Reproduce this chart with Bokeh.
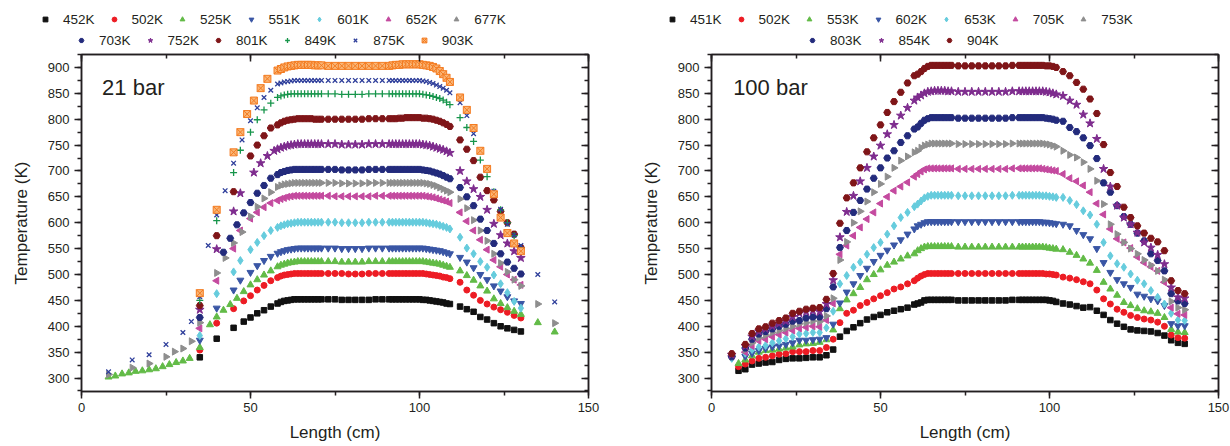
import math
from bokeh.plotting import figure
from bokeh.models import (Range1d, LinearAxis, Legend, LegendItem, Label,
                          SingleIntervalTicker, CustomJSTickFormatter, ColumnDataSource)
from bokeh.layouts import row, column
from bokeh.embed import file_html
from bokeh.resources import INLINE

FONT = "Liberation Sans"
TXT = "#231F20"

# ---------------------------------------------------------------- 21 bar panel
L_A = [58, 59, 60, 61, 62, 63, 64, 65, 66, 67, 68, 69, 70, 71]
L_M = [73, 75, 77, 79, 81, 83, 85, 87, 89, 91]
L_B = [92, 93, 94, 95, 96, 97, 98, 99, 100, 101, 102, 103, 104, 105, 106, 107, 108, 109]
L_F = [112, 114, 116, 118, 120, 122, 124, 126, 128, 130]

labels_21 = ["452K", "502K", "525K", "551K", "601K", "652K", "677K",
             "703K", "752K", "801K", "849K", "875K", "903K"]

x21_452 = [35, 40, 45, 48, 50, 52, 54, 56] + L_A + L_M + L_B + L_F
y21_452 = [340, 376, 397, 409, 417, 425, 431, 438,
           444, 447, 449, 450, 451, 452, 452, 452, 452, 452, 452, 452, 452, 452,
           452, 452, 451, 451, 451, 451, 451, 452, 452, 452,
           452, 452, 452, 452, 452, 452, 452, 452, 452, 451, 451, 450, 449, 448, 447, 446, 444, 443,
           438, 433, 428, 418, 413, 406, 400, 396, 393, 390]

x21_502 = [35, 40, 45, 48, 50, 52, 54, 56] + L_A + L_M + L_B + L_F
y21_502 = [354, 406, 434, 449, 459, 470, 479, 488,
           494, 497, 499, 500, 501, 502, 502, 502, 502, 502, 502, 502, 502, 502,
           502, 502, 502, 501, 501, 501, 502, 502, 502, 502,
           502, 502, 502, 502, 502, 502, 502, 502, 502, 502, 501, 500, 499, 498, 497, 495, 494, 492,
           485, 470, 460, 450, 443, 437, 432, 427, 421, 416]

x21_525 = ([8, 10, 12, 14, 16, 18, 20, 22, 24, 26, 28, 30, 32, 35, 38, 40, 42, 44, 46, 48, 50, 52, 54, 56]
           + L_A + L_M + L_B + L_F + [135, 140])
y21_525 = [302, 304, 308, 310, 313, 314, 316, 318, 322, 326, 330, 333, 338, 359, 403, 418, 431, 442,
           454, 467, 480, 490, 499, 507,
           515, 518, 520, 522, 523, 524, 525, 525, 525, 525, 525, 525, 525, 525,
           525, 525, 524, 524, 524, 524, 525, 525, 525, 525,
           525, 525, 525, 525, 525, 525, 525, 525, 525, 525, 524, 523, 522, 521, 520, 518, 516, 514,
           507, 498, 489, 478, 468, 453, 444, 436, 429, 423,
           407, 389]

x21_551 = [35, 40, 45, 47, 50, 52, 54, 56] + L_A + L_M + L_B + L_F
y21_551 = [373, 435, 470, 489, 504, 517, 527, 535,
           541, 544, 546, 548, 549, 550, 551, 551, 551, 551, 551, 551, 551, 551,
           551, 551, 550, 550, 550, 550, 551, 551, 551, 551,
           551, 551, 551, 551, 551, 551, 551, 551, 551, 551, 550, 549, 548, 547, 546, 544, 542, 540,
           533, 524, 513, 500, 490, 478, 468, 457, 449, 444]

x21_601 = [35, 40, 45, 47, 50, 52, 54, 56] + L_A + L_M + L_B + L_F
y21_601 = [382, 463, 505, 527, 548, 562, 575, 585,
           591, 594, 596, 598, 599, 600, 601, 601, 601, 601, 601, 601, 601, 601,
           601, 601, 600, 600, 600, 600, 601, 601, 601, 601,
           601, 601, 601, 601, 601, 601, 601, 601, 601, 601, 600, 599, 598, 597, 595, 593, 591, 588,
           572, 551, 540, 525, 514, 499, 482, 465, 448, 435]

x21_652 = [35, 40, 45, 47, 50, 52, 54, 56] + L_A + L_M + L_B + L_F
y21_652 = [396, 488, 550, 585, 608, 620, 630, 638,
           643, 646, 648, 650, 651, 652, 652, 652, 652, 652, 652, 652, 652, 652,
           652, 651, 651, 651, 651, 651, 651, 652, 652, 652,
           652, 652, 652, 652, 652, 652, 652, 652, 652, 652, 651, 650, 649, 647, 645, 643, 641, 638,
           620, 603, 585, 567, 548, 528, 515, 500, 490, 480]

x21_677 = ([8, 15, 20, 25, 27.5, 30, 32.5, 35, 40, 42.5, 45, 47.5, 50, 52, 54, 56]
           + L_A + L_M + L_B + L_F + [135, 140])
y21_677 = [307, 320, 328, 341, 351, 357, 371, 407, 503, 532, 561, 582, 612, 631, 647, 659,
           669, 672, 674, 675, 676, 677, 677, 677, 677, 677, 677, 677, 677, 677,
           677, 677, 676, 676, 676, 676, 677, 677, 677, 677,
           677, 677, 677, 677, 677, 677, 677, 677, 677, 677, 676, 675, 673, 671, 668, 665, 662, 659,
           646, 628, 605, 585, 565, 540, 522, 505, 490, 478,
           443, 406]

x21_703 = [35, 42, 44, 46, 48, 50, 52, 54, 56] + L_A + L_M + L_B + L_F
y21_703 = [417, 543, 570, 596, 619, 639, 657, 672, 686,
           693, 697, 699, 701, 702, 703, 703, 703, 703, 703, 703, 703, 703, 703,
           703, 703, 702, 702, 702, 702, 703, 703, 703, 703,
           703, 703, 703, 703, 703, 703, 703, 703, 703, 702, 701, 700, 698, 696, 694, 691, 688, 685,
           668, 650, 633, 607, 585, 560, 540, 524, 512, 501]

x21_752 = [35, 40, 45, 47, 51, 53, 55, 57] + L_A + L_M + L_B + L_F
y21_752 = [432, 549, 622, 657, 697, 715, 729, 739,
           742, 745, 747, 749, 750, 751, 752, 752, 752, 752, 752, 752, 752, 752,
           752, 752, 751, 751, 751, 751, 752, 752, 752, 752,
           752, 752, 752, 752, 752, 752, 752, 752, 752, 751, 750, 749, 747, 745, 743, 741, 738, 735,
           700, 680, 665, 650, 625, 598, 576, 560, 545, 532]

x21_801 = [35, 40, 45, 50, 52, 54, 56] + L_A + L_M + L_B + L_F
y21_801 = [440, 575, 660, 729, 750, 768, 783,
           789, 793, 796, 798, 799, 800, 801, 801, 801, 801, 801, 800, 800, 800,
           800, 800, 800, 800, 800, 800, 801, 801, 801, 801,
           801, 801, 802, 802, 803, 803, 803, 803, 803, 802, 802, 801, 800, 798, 796, 793, 790, 786,
           760, 742, 720, 688, 662, 644, 622, 600, 578, 552]

x21_849 = [35, 40, 45, 47, 50, 52, 54, 56] + L_A + L_M + L_B + L_F
y21_849 = [450, 604, 697, 740, 775, 799, 818, 831,
           842, 845, 847, 848, 849, 849, 849, 849, 849, 849, 849, 849, 849, 849,
           849, 849, 848, 848, 848, 848, 849, 849, 849, 849,
           849, 849, 849, 849, 849, 849, 849, 849, 849, 848, 847, 846, 844, 842, 840, 837, 833, 828,
           803, 784, 757, 721, 689, 660, 625, 600, 575, 552]

x21_875 = ([8, 15, 20, 25, 30, 32.5, 35, 37.5, 40, 42.5, 45, 47.5, 50, 52, 54, 56]
           + L_A + L_M + L_B + L_F + [135, 140])
y21_875 = [312, 335, 345, 365, 388, 409, 457, 556, 615, 662, 715, 760, 797, 822, 842, 856,
           868, 870, 872, 873, 874, 875, 875, 875, 875, 875, 875, 875, 875, 875,
           875, 875, 875, 875, 875, 875, 875, 875, 875, 875,
           875, 875, 875, 875, 875, 875, 875, 875, 875, 874, 873, 871, 869, 866, 863, 860, 856, 851,
           832, 807, 772, 740, 704, 661, 626, 597, 576, 556,
           500, 447]

x21_903 = [35, 40, 45, 47, 49, 51, 53, 55] + L_A + L_M + L_B + L_F
y21_903 = [464, 625, 736, 775, 810, 836, 860, 878,
           894, 897, 900, 902, 903, 904, 905, 905, 905, 905, 905, 904, 904, 904,
           903, 903, 903, 903, 903, 903, 903, 903, 903, 903,
           904, 905, 905, 906, 906, 906, 906, 906, 906, 905, 904, 903, 901, 898, 893, 887, 880, 872,
           842, 818, 783, 739, 704, 655, 610, 580, 560, 545]

xs_21 = [x21_452, x21_502, x21_525, x21_551, x21_601, x21_652, x21_677,
         x21_703, x21_752, x21_801, x21_849, x21_875, x21_903]
ys_21 = [y21_452, y21_502, y21_525, y21_551, y21_601, y21_652, y21_677,
         y21_703, y21_752, y21_801, y21_849, y21_875, y21_903]

# --------------------------------------------------------------- 100 bar panel
R_LL = [8, 10, 12, 14, 16, 18, 20, 22, 24, 26, 28, 30, 32, 34]
R_LU = [6, 10, 12, 14, 16, 18, 20, 22, 24, 26, 28, 30, 32, 34]
R_R = [36, 38, 40, 42, 44, 46, 48, 50, 52, 54, 56, 58, 60]
R_A = [61, 62, 63, 64, 65, 66, 67, 68, 69, 70, 71]
R_M = [73, 75, 77, 79, 81, 83, 85, 87, 89, 91]
R_B = [92, 93, 94, 95, 96, 97, 98, 99, 100, 101, 102]
R_F = [104, 106, 108, 110, 112, 114, 116, 118, 120, 122, 124, 126, 128, 130, 132, 134]
R_E = [136, 138, 140]

labels_100 = ["451K", "502K", "553K", "602K", "653K", "705K", "753K",
              "803K", "854K", "904K"]

x100_451 = R_LL + R_R + R_A + R_M + R_B + R_F + R_E
y100_451 = [314, 317, 326, 328, 330, 331, 335, 337, 338, 338, 339, 340, 340, 344,
            355, 380, 391, 398, 406, 413, 418, 422, 427, 430, 433, 436, 442,
            444, 446, 450, 451, 451, 451, 451, 451, 451, 451, 451,
            450, 450, 450, 450, 450, 450, 450, 450, 451, 451,
            451, 451, 451, 451, 451, 451, 451, 451, 450, 449, 447,
            444, 442, 439, 436, 437, 430, 422, 412, 405, 399, 394, 392, 391, 390, 387, 382,
            373, 368, 366]

x100_502 = R_LL + R_R + R_A + R_M + R_B + R_F + R_E
y100_502 = [322, 327, 333, 338, 340, 343, 346, 347, 351, 351, 351, 353, 353, 359,
            375, 407, 425, 431, 440, 446, 453, 459, 465, 472, 476, 482, 488,
            493, 497, 500, 502, 502, 502, 502, 502, 502, 502, 502,
            502, 502, 502, 502, 502, 502, 502, 502, 502, 502,
            502, 502, 502, 502, 502, 502, 502, 501, 501, 500, 499,
            495, 493, 490, 486, 482, 470, 453, 443, 433, 427, 421, 417, 414, 412, 408, 400,
            383, 378, 377]

x100_553 = R_LL + R_R + R_A + R_M + R_B + R_F + R_E
y100_553 = [328, 335, 343, 350, 353, 354, 356, 358, 360, 364, 366, 367, 369, 374,
            393, 434, 451, 463, 475, 490, 500, 509, 518, 524, 530, 536, 540,
            546, 550, 553, 554, 554, 554, 554, 554, 554, 554, 554,
            553, 553, 553, 553, 553, 553, 553, 553, 553, 553,
            553, 553, 553, 553, 553, 553, 553, 552, 551, 550, 549,
            548, 543, 537, 530, 522, 508, 485, 472, 460, 446, 440, 434, 430, 428, 425, 417,
            394, 389, 388]

x100_602 = R_LU + R_R + R_A + R_M + R_B + R_F + R_E
y100_602 = [340, 342, 348, 353, 357, 360, 362, 365, 368, 373, 373, 374, 375, 378,
            404, 445, 466, 482, 498, 512, 525, 537, 547, 557, 567, 578, 588,
            594, 597, 600, 602, 602, 602, 602, 602, 602, 602, 602,
            602, 602, 602, 602, 602, 602, 602, 602, 602, 602,
            602, 602, 602, 602, 602, 602, 601, 601, 600, 599, 598,
            597, 594, 585, 577, 569, 550, 523, 504, 490, 482, 475, 462, 458, 453, 449, 440,
            405, 401, 401]

x100_653 = R_LU + R_R + R_A + R_M + R_B + R_F + R_E
y100_653 = [338, 348, 355, 360, 363, 368, 372, 376, 380, 385, 386, 388, 388, 397,
            429, 482, 498, 514, 524, 539, 552, 562, 578, 594, 610, 620, 631,
            636, 642, 648, 651, 653, 653, 653, 653, 653, 653, 653,
            652, 652, 652, 652, 652, 652, 652, 652, 653, 653,
            653, 653, 653, 653, 653, 653, 652, 652, 651, 650, 649,
            649, 643, 635, 623, 615, 597, 562, 536, 521, 514, 501, 489, 482, 469, 456, 443,
            425, 412, 411]

x100_705 = R_LU + R_R + R_A + R_M + R_B + R_F + R_E
y100_705 = [343, 350, 362, 372, 375, 380, 384, 388, 392, 396, 398, 400, 399, 412,
            444, 539, 556, 575, 591, 607, 620, 637, 650, 662, 670, 678, 689,
            694, 699, 703, 705, 705, 705, 705, 705, 705, 705, 705,
            704, 704, 704, 704, 704, 704, 704, 704, 705, 705,
            705, 705, 705, 705, 705, 705, 704, 703, 702, 701, 700,
            694, 686, 680, 672, 659, 637, 616, 588, 569, 562, 551, 534, 523, 515, 507, 485,
            436, 424, 422]

x100_753 = R_LU + R_R + R_A + R_M + R_B + R_F + R_E
y100_753 = [342, 355, 368, 378, 383, 388, 392, 396, 400, 405, 407, 410, 409, 420,
            454, 528, 563, 600, 622, 641, 659, 675, 689, 706, 720, 728, 736,
            739, 745, 749, 751, 753, 753, 753, 753, 753, 753, 753,
            752, 752, 752, 752, 752, 752, 752, 752, 753, 753,
            753, 753, 753, 753, 753, 753, 753, 752, 751, 749, 747,
            739, 731, 726, 717, 704, 681, 636, 597, 578, 562, 550, 540, 528, 518, 507, 490,
            448, 436, 432]

x100_803 = R_LU + R_R + R_A + R_M + R_B + R_F + R_E
y100_803 = [341, 358, 375, 385, 390, 395, 400, 404, 410, 411, 416, 418, 418, 434,
            476, 552, 585, 620, 643, 665, 686, 706, 725, 739, 755, 768, 781,
            785, 792, 798, 801, 803, 803, 803, 803, 803, 803, 803,
            802, 802, 802, 802, 802, 802, 802, 802, 803, 803,
            803, 803, 803, 803, 803, 803, 803, 802, 801, 800, 798,
            796, 784, 776, 764, 749, 724, 677, 659, 633, 612, 597, 580, 565, 540, 527, 507,
            463, 449, 444]

x100_854 = R_LU + R_R + R_A + R_M + R_B + R_F + R_E
y100_854 = [345, 362, 380, 390, 395, 400, 405, 410, 418, 425, 428, 430, 428, 443,
            489, 572, 621, 652, 680, 706, 728, 749, 771, 789, 807, 822, 836,
            842, 846, 850, 853, 854, 855, 855, 855, 855, 854, 854,
            853, 853, 853, 853, 853, 853, 853, 853, 854, 854,
            854, 854, 854, 854, 854, 854, 854, 853, 852, 850, 848,
            845, 836, 828, 809, 792, 762, 704, 670, 633, 610, 597, 581, 562, 552, 538, 520,
            475, 456, 454]

x100_904 = R_LU + R_R + R_A + R_M + R_B + R_F + R_E
y100_904 = [347, 365, 386, 395, 399, 406, 411, 416, 425, 429, 433, 435, 436, 452,
            502, 599, 648, 677, 706, 737, 764, 789, 813, 834, 852, 870, 884,
            887, 892, 898, 902, 904, 904, 904, 904, 904, 904, 904,
            903, 903, 903, 903, 903, 903, 903, 903, 904, 904,
            904, 904, 904, 904, 904, 904, 904, 903, 903, 902, 900,
            892, 884, 871, 858, 839, 811, 751, 697, 670, 630, 610, 594, 580, 570, 563, 546,
            488, 469, 463]

xs_100 = [x100_451, x100_502, x100_553, x100_602, x100_653, x100_705, x100_753,
          x100_803, x100_854, x100_904]
ys_100 = [y100_451, y100_502, y100_553, y100_602, y100_653, y100_705, y100_753,
          y100_803, y100_854, y100_904]

for xs, ys, labs in ((xs_21, ys_21, labels_21), (xs_100, ys_100, labels_100)):
    for xx, yy, lb in zip(xs, ys, labs):
        if len(xx) != len(yy):
            raise ValueError("length mismatch %s: %d vs %d" % (lb, len(xx), len(yy)))

# ------------------------------------------------------------------ styles
STYLES = [
    dict(marker="square", size=5.5, color="#111111", fill="#111111", angle=0.0, lw=1),
    dict(marker="circle", size=6, color="#ED1C24", fill="#ED1C24", angle=0.0, lw=1),
    dict(marker="triangle", size=7, color="#62BB47", fill="#62BB47", angle=0.0, lw=1),
    dict(marker="inverted_triangle", size=7, color="#3A56A5", fill="#3A56A5", angle=0.0, lw=1),
    dict(marker="diamond", size=8, color="#66CCDD", fill="#66CCDD", angle=0.0, lw=1),
    dict(marker="triangle", size=7, color="#C44A9F", fill="#C44A9F", angle=math.pi / 2, lw=1),
    dict(marker="triangle", size=7, color="#8E8E8E", fill="#8E8E8E", angle=-math.pi / 2, lw=1),
    dict(marker="hex", size=7, color="#232B7C", fill="#232B7C", angle=0.0, lw=1),
    dict(marker="star", size=9, color="#7E2C8E", fill="#7E2C8E", angle=0.0, lw=1),
    dict(marker="hex", size=7, color="#7F1518", fill="#7F1518", angle=0.0, lw=1),
    dict(marker="cross", size=7, color="#17954B", fill="#17954B", angle=0.0, lw=1.3),
    dict(marker="x", size=6.5, color="#2F3F9B", fill="#2F3F9B", angle=0.0, lw=1.3),
    dict(marker="square_x", size=7, color="#F47B20", fill="#F9B576", angle=0.0, lw=1),
]

LEG_H = 50


def make_fig(left_b, right_b, tag_x, tag_text):
    p = figure(width=615, height=446 - LEG_H, x_range=Range1d(0, 150), y_range=Range1d(274, 925),
               output_backend="svg", toolbar_location=None, frame_align=False,
               min_border_left=left_b, min_border_right=right_b,
               min_border_top=4, min_border_bottom=55)
    p.xgrid.visible = False
    p.ygrid.visible = False
    p.outline_line_color = "#231F20"
    p.outline_line_width = 1.5
    p.background_fill_color = "white"
    p.border_fill_color = "white"

    xa = p.xaxis[0]
    ya = p.yaxis[0]
    xa.ticker = SingleIntervalTicker(interval=50, num_minor_ticks=2)
    ya.ticker = SingleIntervalTicker(interval=50, num_minor_ticks=2)
    for ax in (xa, ya):
        ax.axis_line_width = 1.5
        ax.axis_line_color = "#231F20"
        ax.major_tick_line_width = 1.5
        ax.minor_tick_line_width = 1.5
        ax.major_tick_line_color = "#231F20"
        ax.minor_tick_line_color = "#231F20"
        ax.major_tick_out = 7
        ax.major_tick_in = 0
        ax.minor_tick_out = 4
        ax.minor_tick_in = 0
        ax.major_label_text_font = FONT
        ax.major_label_text_font_size = "13px"
        ax.major_label_text_color = TXT
        ax.axis_label_text_font = FONT
        ax.axis_label_text_font_size = "17px"
        ax.axis_label_text_font_style = "normal"
        ax.axis_label_text_color = TXT
    xa.axis_label = "Length (cm)"
    xa.major_label_standoff = 4
    xa.axis_label_standoff = 8
    ya.axis_label = "Temperature (K)"
    ya.major_label_standoff = 5
    ya.axis_label_standoff = 14

    for side in ("above", "right"):
        ax = LinearAxis(ticker=SingleIntervalTicker(interval=50, num_minor_ticks=2),
                        formatter=CustomJSTickFormatter(code="return '';"))
        ax.axis_line_width = 1.5
        ax.axis_line_color = "#231F20"
        ax.major_tick_line_width = 1.5
        ax.minor_tick_line_width = 1.5
        ax.major_tick_line_color = "#231F20"
        ax.minor_tick_line_color = "#231F20"
        ax.major_tick_in = 7
        ax.major_tick_out = 0
        ax.minor_tick_in = 4
        ax.minor_tick_out = 0
        ax.major_label_standoff = 0
        ax.major_label_text_font_size = "0px"
        p.add_layout(ax, side)

    p.add_layout(Label(x=tag_x, y=861, text=tag_text, text_font=FONT, text_font_size="22px",
                       text_color=TXT, text_baseline="middle", text_align="left"))
    return p


def add_series(p, xs, ys):
    for i, (xx, yy) in enumerate(zip(xs, ys)):
        st = STYLES[i]
        src = ColumnDataSource(dict(x=xx, y=yy))
        p.scatter("x", "y", source=src, marker=st["marker"], size=st["size"],
                  angle=st["angle"], line_color=st["color"], fill_color=st["fill"],
                  line_width=st["lw"])


def make_legend_fig(xs, ys, labs, loc1, loc2):
    """Separate strip above each panel holding the two-row legend."""
    q = figure(width=615, height=LEG_H, x_range=Range1d(0, 1), y_range=Range1d(0, 1),
               output_backend="svg", toolbar_location=None, frame_align=False,
               x_axis_type=None, y_axis_type=None,
               min_border_left=0, min_border_right=0, min_border_top=0, min_border_bottom=0)
    q.outline_line_color = None
    q.xgrid.visible = False
    q.ygrid.visible = False
    items = []
    for i, (xx, yy, lb) in enumerate(zip(xs, ys, labs)):
        st = STYLES[i]
        # key glyph only: the series' data sit outside this strip's ranges
        src = ColumnDataSource(dict(x=xx, y=yy))
        r = q.scatter("x", "y", source=src, marker=st["marker"], size=st["size"],
                      angle=st["angle"], line_color=st["color"], fill_color=st["fill"],
                      line_width=st["lw"])
        items.append(LegendItem(label=lb, renderers=[r]))
    for its, loc in ((items[:7], loc1), (items[7:], loc2)):
        lg = Legend(items=its, location=loc, orientation="horizontal",
                    padding=0, margin=0, spacing=7, glyph_width=24, glyph_height=12,
                    label_standoff=6, label_text_font=FONT, label_text_font_size="13.5px",
                    label_text_color=TXT, border_line_color=None, background_fill_alpha=0,
                    label_height=16)
        q.add_layout(lg)
    return q


p1 = make_fig(81, 27, 6.1, "21 bar")
add_series(p1, xs_21, ys_21)
l1 = make_legend_fig(xs_21, ys_21, labels_21, (33, 23), (69, 2))

p2 = make_fig(96, 12, 6.4, "100 bar")
add_series(p2, xs_100, ys_100)
l2 = make_legend_fig(xs_100, ys_100, labels_100, (45, 23), (185, 2))

layout = row(column(l1, p1, spacing=0), column(l2, p2, spacing=0), spacing=0)
open("out.html", "w").write(file_html(layout, INLINE))
